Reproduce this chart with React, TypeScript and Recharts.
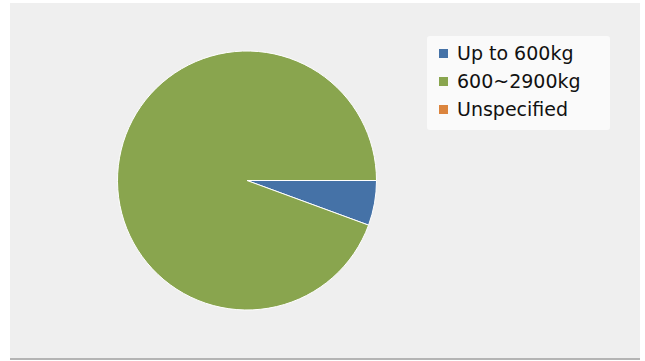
import React from 'react';
import { Cell, Legend, Pie, PieChart } from 'recharts';

const categories = ['Up to 600kg', '600~2900kg', 'Unspecified'];
const values = [56, 944, 0];
const COLORS = ['#4572A7', '#89A54E', '#DB843D'];

const data = categories.map((name, i) => ({ name, value: values[i] }));

function LegendBox() {
	return (
		<div
			style={{
				background: '#fafafa',
				borderRadius: 3,
				width: 183,
				height: 94,
				boxSizing: 'border-box',
				padding: '3px 0 0 12px',
				fontFamily: '"DejaVu Sans", sans-serif',
				fontSize: 19,
				color: '#111',
			}}
		>
			{categories.map((c, i) => (
				<div key={c} style={{ display: 'flex', alignItems: 'center', height: 28 }}>
					<span
						style={{ width: 9, height: 9, background: COLORS[i], display: 'inline-block', marginRight: 9 }}
					/>
					<span>{c}</span>
				</div>
			))}
		</div>
	);
}

export default function App() {
	return (
		<div style={{ position: 'absolute', left: 0, top: 0, width: 645, height: 361, background: '#fff' }}>
			<div
				style={{
					position: 'absolute',
					left: 10,
					top: 3,
					width: 630,
					height: 355,
					background: '#efefef',
					borderBottom: '2px solid #b4b4b4',
				}}
			/>
			<div style={{ position: 'absolute', left: 0, top: 0 }}>
				<PieChart width={645} height={361} margin={{ top: 0, right: 0, bottom: 0, left: 0 }}>
					<Pie
						data={data}
						dataKey="value"
						nameKey="name"
						cx={247}
						cy={180.5}
						outerRadius={129.5}
						startAngle={0}
						endAngle={-360}
						stroke="#ffffff"
						strokeWidth={1}
						isAnimationActive={false}
					>
						{data.map((_, i) => (
							<Cell key={i} fill={COLORS[i]} />
						))}
					</Pie>
					<Legend
						layout="vertical"
						verticalAlign="top"
						align="right"
						wrapperStyle={{ left: 427, top: 36, width: 183 }}
						content={() => <LegendBox />}
					/>
				</PieChart>
			</div>
		</div>
	);
}
